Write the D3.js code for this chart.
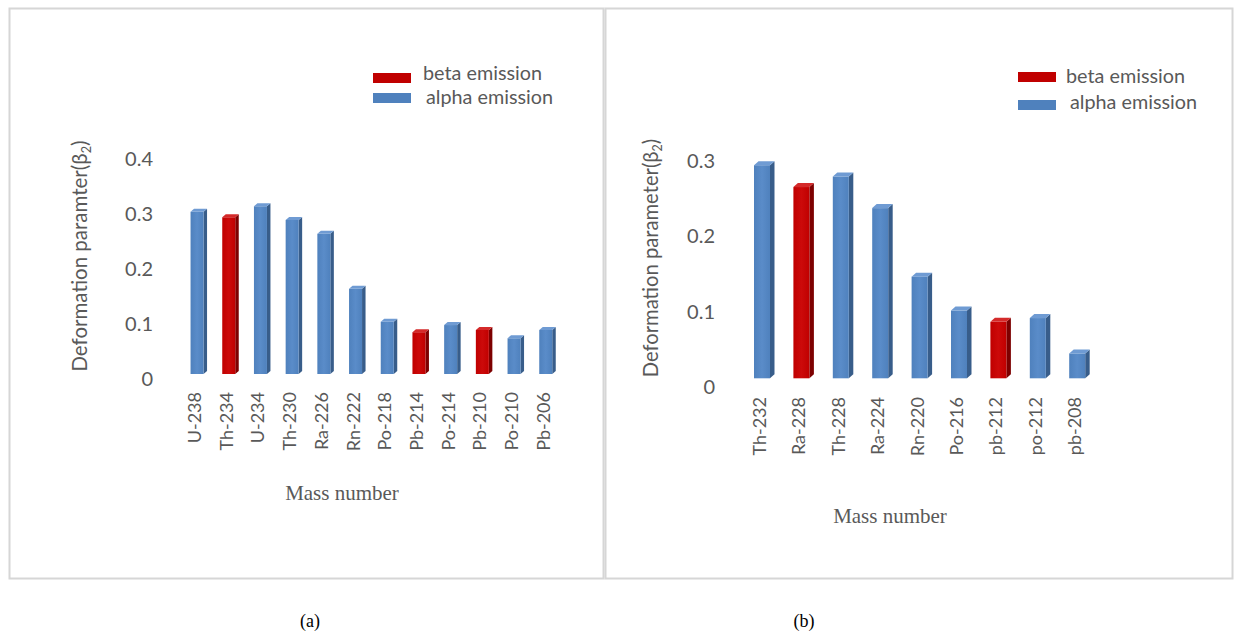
<!DOCTYPE html>
<html>
<head>
<meta charset="utf-8">
<script src="https://cdn.jsdelivr.net/npm/d3@7"></script>
<style>
  html, body { margin: 0; padding: 0; background: #ffffff; }
  svg { display: block; }
</style>
</head>
<body>
<svg id="fig" width="1237" height="634"></svg>
<script>
// ---- data: uranium series (a) ----
const catsA = ["U-238", "Th-234", "U-234", "Th-230", "Ra-226", "Rn-222",
               "Po-218", "Pb-214", "Po-214", "Pb-210", "Po-210", "Pb-206"];
const valsA = [0.295, 0.285, 0.305, 0.28, 0.255, 0.155,
               0.095, 0.076, 0.089, 0.08, 0.065, 0.08];
const decayA = ["alpha", "beta", "alpha", "alpha", "alpha", "alpha",
                "alpha", "beta", "alpha", "beta", "alpha", "alpha"];
const ticksA = [0, 0.1, 0.2, 0.3, 0.4];

// ---- data: thorium series (b) ----
const catsB = ["Th-232", "Ra-228", "Th-228", "Ra-224", "Rn-220",
               "Po-216", "pb-212", "po-212", "pb-208"];
const valsB = [0.283, 0.254, 0.268, 0.226, 0.135, 0.09, 0.075, 0.08, 0.033];
const decayB = ["alpha", "beta", "alpha", "alpha", "alpha",
                "alpha", "beta", "alpha", "alpha"];
const ticksB = [0, 0.1, 0.2, 0.3];

const legendLabels = ["beta emission", "alpha emission"];

const palette = {
  alpha: { front: "#4f81bd", light: "#5a8cc9", side: "#385d8a", top: "#6f9bd3" },
  beta:  { front: "#c00000", light: "#cc0a0a", side: "#7d0000", top: "#d42a2a" }
};

const svg = d3.select("#fig");
const defs = svg.append("defs");
["alpha", "beta"].forEach(k => {
  const g = defs.append("linearGradient").attr("id", "grad-" + k)
    .attr("x1", "0").attr("x2", "1").attr("y1", "0").attr("y2", "0");
  g.append("stop").attr("offset", "0").attr("stop-color", palette[k].front);
  g.append("stop").attr("offset", "0.5").attr("stop-color", palette[k].light);
  g.append("stop").attr("offset", "1").attr("stop-color", palette[k].front);
});

// panel frames
svg.append("rect").attr("x", 9.5).attr("y", 8.5).attr("width", 594).attr("height", 570)
  .attr("fill", "none").attr("stroke", "#d6d6d6").attr("stroke-width", 2);
svg.append("rect").attr("x", 605.5).attr("y", 8.5).attr("width", 627).attr("height", 570)
  .attr("fill", "none").attr("stroke", "#d6d6d6").attr("stroke-width", 2);

const textColor = "#595959";
const sans = "Lato, 'Open Sans', sans-serif";

function drawPanel(cfg) {
  const g = svg.append("g");

  const x = d3.scaleBand().domain(cfg.cats).range(cfg.xRange)
    .paddingInner(cfg.pad).paddingOuter(cfg.pad / 2);
  const y = d3.scaleLinear().domain([0, 0.1]).range([cfg.base, cfg.base - cfg.per]);

  // value axis (labels only)
  const yAxis = d3.axisLeft(y).tickValues(cfg.ticks).tickSize(0).tickPadding(0)
    .tickFormat(d => d === 0 ? "0" : d3.format(".1f")(d));
  const ga = g.append("g").attr("transform", `translate(${cfg.axisX},${cfg.labelShift})`).call(yAxis);
  ga.select(".domain").remove();
  ga.selectAll("text").attr("font-family", sans)
    .attr("font-size", 20).attr("fill", textColor).attr("dy", "0.36em");

  // 3D columns
  const bw = x.bandwidth(), dx = cfg.depthX, dy = cfg.depthY;
  const bars = g.append("g").selectAll("g").data(cfg.cats).enter().append("g");
  bars.each(function (c, i) {
    const sel = d3.select(this);
    const col = palette[cfg.decay[i]];
    const x0 = x(c), x1 = x0 + bw;
    const yt = y(cfg.vals[i]), yb = y(0);
    sel.append("path")
      .attr("d", `M${x1},${yt} L${x1 + dx},${yt - dy} L${x1 + dx},${yb - dy} L${x1},${yb} Z`)
      .attr("fill", col.side);
    sel.append("rect").attr("x", x0).attr("y", yt).attr("width", bw).attr("height", yb - yt)
      .attr("fill", `url(#grad-${cfg.decay[i]})`);
    sel.append("path")
      .attr("d", `M${x0},${yt} L${x0 + dx},${yt - dy} L${x1 + dx},${yt - dy} L${x1},${yt} Z`)
      .attr("fill", col.top);
  });

  // category labels
  g.append("g").selectAll("text").data(cfg.cats).enter().append("text")
    .attr("transform", c => `translate(${x(c) + bw / 2 - 2.5},${cfg.catTop}) rotate(-90)`)
    .attr("text-anchor", "end").attr("dy", "0.36em")
    .attr("font-family", sans).attr("font-size", 18)
    .attr("fill", textColor).text(c => c);

  // axis titles
  const yt = g.append("text")
    .attr("transform", `translate(${cfg.titleX},${cfg.titleY}) rotate(-90)`)
    .attr("text-anchor", "middle").attr("dy", "0.36em")
    .attr("font-family", sans).attr("font-size", cfg.titleSize)
    .attr("fill", textColor);
  yt.append("tspan").text(cfg.yTitle + "(β");
  yt.append("tspan").attr("font-size", cfg.titleSize * 0.62).attr("dy", "0.3em").text("2");
  yt.append("tspan").attr("dy", "-0.19em").text(")");

  g.append("text").attr("x", cfg.massX).attr("y", cfg.massY).attr("text-anchor", "middle")
    .attr("font-family", "'Liberation Serif', 'Times New Roman', serif").attr("font-size", 21)
    .attr("fill", textColor).text("Mass number");

  // legend
  const leg = g.append("g");
  legendLabels.forEach((lab, i) => {
    const key = i === 0 ? "beta" : "alpha";
    leg.append("rect").attr("x", cfg.legX).attr("y", cfg.legY[i]).attr("width", 38).attr("height", 10)
      .attr("fill", palette[key].front);
    leg.append("text").attr("x", cfg.legTextX[i]).attr("y", cfg.legBase[i])
      .attr("font-family", sans).attr("font-size", 19.8)
      .attr("fill", textColor).text(lab);
  });

  // caption
  svg.append("text").attr("x", cfg.capX).attr("y", 627).attr("text-anchor", "middle")
    .attr("font-family", "'Liberation Serif', 'Times New Roman', serif").attr("font-size", 18)
    .attr("fill", "#000").text(cfg.caption);
}

drawPanel({
  cats: catsA, vals: valsA, decay: decayA, ticks: ticksA,
  xRange: [181.2, 561.6], pad: 0.59,
  base: 374, per: 55, labelShift: 4, axisX: 153,
  depthX: 3.5, depthY: 3,
  catTop: 392, titleX: 80, titleY: 256, titleSize: 20.5,
  yTitle: "Deformation paramter",
  massX: 342, massY: 500,
  legX: 373, legY: [73, 93], legTextX: [423, 426], legBase: [80, 104],
  capX: 310, caption: "(a)"
});

drawPanel({
  cats: catsB, vals: valsB, decay: decayB, ticks: ticksB,
  xRange: [742.3, 1096.9], pad: 0.594,
  base: 378.3, per: 75.3, labelShift: 8, axisX: 715,
  depthX: 4.5, depthY: 4,
  catTop: 397, titleX: 651, titleY: 258, titleSize: 20.2,
  yTitle: "Deformation parameter",
  massX: 890, massY: 523,
  legX: 1018, legY: [72, 100], legTextX: [1066, 1070], legBase: [83, 109],
  capX: 804, caption: "(b)"
});
</script>
</body>
</html>
